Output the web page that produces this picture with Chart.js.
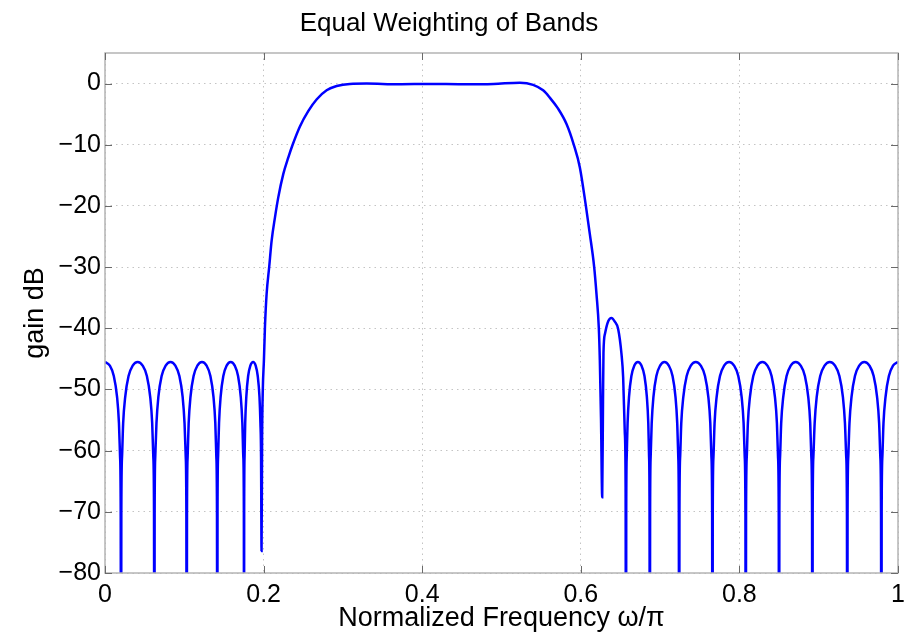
<!DOCTYPE html>
<html>
<head>
<meta charset="utf-8">
<title>Equal Weighting of Bands</title>
<script src="https://cdn.jsdelivr.net/npm/chart.js@4/dist/chart.umd.min.js"></script>
<style>
  html, body { margin: 0; padding: 0; background: #fff; }
  #wrap { width: 916px; height: 638px; }
</style>
</head>
<body>
<div id="wrap"><canvas id="myChart" width="916" height="638"></canvas></div>
<script>
// values (frequency in units of pi, gain in dB)
// -120 marks a null that falls below the visible -80 floor
const lowStopFreq = [
  0, 0.0061, 0.0111, 0.0152, 0.0176, 0.0190, 0.0198, 0.0202,
  0.0206, 0.0215, 0.0229, 0.0255, 0.0297, 0.0349, 0.0412, 0.0475, 0.0528, 0.0570, 0.0595, 0.0609, 0.0618, 0.0622,
  0.0626, 0.0634, 0.0649, 0.0673, 0.0714, 0.0765, 0.0826, 0.0887, 0.0938, 0.0979, 0.1003, 0.1018, 0.1026, 0.1030,
  0.1034, 0.1042, 0.1055, 0.1078, 0.1117, 0.1165, 0.1223, 0.1281, 0.1329, 0.1368, 0.1391, 0.1404, 0.1412, 0.1416,
  0.1419, 0.1426, 0.1438, 0.1458, 0.1492, 0.1534, 0.1585, 0.1636, 0.1678, 0.1712, 0.1732, 0.1744, 0.1751, 0.1753,
  0.1755, 0.1760, 0.1768, 0.1782, 0.1805, 0.1833, 0.1868, 0.1900, 0.1926, 0.1948, 0.1960, 0.1968, 0.1974];
const lowStopGain = [
  -45.5, -46.1, -47.8, -51.2, -55.5, -61, -70, -120,
  -70, -61, -55.5, -51.2, -47.8, -46.1, -45.5, -46.1, -47.8, -51.2, -55.5, -61, -70, -120,
  -70, -61, -55.5, -51.2, -47.8, -46.1, -45.5, -46.1, -47.8, -51.2, -55.5, -61, -70, -120,
  -70, -61, -55.5, -51.2, -47.8, -46.1, -45.5, -46.1, -47.8, -51.2, -55.5, -61, -70, -120,
  -70, -61, -55.5, -51.2, -47.8, -46.1, -45.5, -46.1, -47.8, -51.2, -55.5, -61, -70, -120,
  -70, -61, -55.5, -51.2, -47.8, -46.1, -45.5, -46.1, -47.8, -51.2, -55.5, -61, -76.4];

const passFreq = [0.1981, 0.1990, 0.2004, 0.2017, 0.2038, 0.2071, 0.2101, 0.2143, 0.2185,
  0.2248, 0.2311, 0.2366, 0.2458, 0.2563, 0.2668, 0.2795, 0.2921, 0.3088,
  0.33, 0.37, 0.41, 0.45, 0.49, 0.5231, 0.5399, 0.5525, 0.5609, 0.5714, 0.582,
  0.5912, 0.5988, 0.6064, 0.6114, 0.6168, 0.6198, 0.6227, 0.6240, 0.6255, 0.627];
const passGain = [-58, -50, -45.2, -39.8, -34.4, -29.9, -25.7, -21.9, -18.6,
  -14.8, -12.1, -10, -7, -4.5, -2.6, -1.1, -0.4, -0.05,
  0, -0.1, -0.05, -0.1, -0.05, 0.15, -0.2, -1.1, -2.3, -4.1, -6.6,
  -10, -13.7, -20, -24.6, -29.9, -34.4, -39.9, -45.2, -55, -67.6];

const highStopFreq = [
  0.6280, 0.6286, 0.6305, 0.6347, 0.6387, 0.6429, 0.6471, 0.6513, 0.6534, 0.6555, 0.6565, 0.657,
  0.6573, 0.6579, 0.6590, 0.6608, 0.6638, 0.6675, 0.672, 0.6765, 0.6803, 0.6833, 0.6851, 0.6861, 0.6867, 0.687,
  0.6874, 0.6881, 0.6894, 0.6916, 0.6953, 0.7000, 0.7055, 0.7110, 0.7157, 0.7194, 0.7216, 0.7229, 0.7236, 0.724,
  0.7244, 0.7253, 0.7267, 0.7293, 0.7335, 0.7387, 0.745, 0.7513, 0.7566, 0.7608, 0.7633, 0.7647, 0.7656, 0.766,
  0.7664, 0.7673, 0.7687, 0.7713, 0.7755, 0.7807, 0.787, 0.7933, 0.7986, 0.8028, 0.8053, 0.8067, 0.8076, 0.808,
  0.8084, 0.8093, 0.8107, 0.8133, 0.8175, 0.8227, 0.829, 0.8353, 0.8406, 0.8448, 0.8473, 0.8487, 0.8496, 0.850,
  0.8504, 0.8513, 0.8527, 0.8553, 0.8595, 0.8647, 0.871, 0.8773, 0.8826, 0.8868, 0.8893, 0.8907, 0.8916, 0.892,
  0.8924, 0.8933, 0.8949, 0.8975, 0.9019, 0.9074, 0.914, 0.9206, 0.9261, 0.9305, 0.9331, 0.9347, 0.9356, 0.936,
  0.9364, 0.9373, 0.9388, 0.9414, 0.9457, 0.9511, 0.9575, 0.9640, 0.9693, 0.9736, 0.9762, 0.9777, 0.9786, 0.979,
  0.9794, 0.9803, 0.9817, 0.9843, 0.9885, 0.9937, 1.0];
const highStopGain = [
  -52, -44, -40.9, -38.8, -38.3, -38.9, -40.1, -44.2, -48, -57.1, -66, -120,
  -70, -61, -55.5, -51.2, -47.8, -46.1, -45.5, -46.1, -47.8, -51.2, -55.5, -61, -70, -120,
  -70, -61, -55.5, -51.2, -47.8, -46.1, -45.5, -46.1, -47.8, -51.2, -55.5, -61, -70, -120,
  -70, -61, -55.5, -51.2, -47.8, -46.1, -45.5, -46.1, -47.8, -51.2, -55.5, -61, -70, -120,
  -70, -61, -55.5, -51.2, -47.8, -46.1, -45.5, -46.1, -47.8, -51.2, -55.5, -61, -70, -120,
  -70, -61, -55.5, -51.2, -47.8, -46.1, -45.5, -46.1, -47.8, -51.2, -55.5, -61, -70, -120,
  -70, -61, -55.5, -51.2, -47.8, -46.1, -45.5, -46.1, -47.8, -51.2, -55.5, -61, -70, -120,
  -70, -61, -55.5, -51.2, -47.8, -46.1, -45.5, -46.1, -47.8, -51.2, -55.5, -61, -70, -120,
  -70, -61, -55.5, -51.2, -47.8, -46.1, -45.5, -46.1, -47.8, -51.2, -55.5, -61, -70, -120,
  -70, -61, -55.5, -51.2, -47.8, -46.1, -45.5];

const xTicks = [0, 0.2, 0.4, 0.6, 0.8, 1];
const yTicks = [-80, -70, -60, -50, -40, -30, -20, -10, 0];

const freq = lowStopFreq.concat(passFreq, highStopFreq);
const gain = lowStopGain.concat(passGain, highStopGain);
const points = freq.map((f, i) => ({ x: f, y: gain[i] }));

const FONT = "'Liberation Sans', Arial, Helvetica, sans-serif";

// matlab style box with inward tick marks
const boxPlugin = {
  id: 'box',
  afterDatasetsDraw(chart) {
    const { ctx, chartArea: a, scales: { x, y } } = chart;
    ctx.save();
    ctx.strokeStyle = '#b4b4b4';
    ctx.lineWidth = 1.5;
    ctx.strokeRect(a.left, a.top, a.right - a.left, a.bottom - a.top);
    ctx.strokeStyle = '#6a6a6a';
    ctx.lineWidth = 1;
    ctx.beginPath();
    x.ticks.forEach(t => {
      const px = Math.round(x.getPixelForValue(t.value)) + 0.5;
      ctx.moveTo(px, a.bottom); ctx.lineTo(px, a.bottom - 7);
      ctx.moveTo(px, a.top); ctx.lineTo(px, a.top + 7);
    });
    y.ticks.forEach(t => {
      const py = Math.round(y.getPixelForValue(t.value)) + 0.5;
      ctx.moveTo(a.left, py); ctx.lineTo(a.left + 7, py);
      ctx.moveTo(a.right, py); ctx.lineTo(a.right - 7, py);
    });
    ctx.stroke();
    ctx.restore();
  }
};

const ctx = document.getElementById('myChart').getContext('2d');

const myChart = new Chart(ctx, {
  type: 'line',
  data: {
    datasets: [{
      data: points,
      borderColor: '#0000ff',
      borderWidth: 2.5,
      pointRadius: 0,
      fill: false,
      cubicInterpolationMode: 'monotone',
      clip: 0
    }]
  },
  options: {
    responsive: false,
    animation: false,
    layout: { padding: { left: 0, right: 18, top: 0, bottom: 0 } },
    plugins: {
      legend: { display: false },
      tooltip: { enabled: false },
      title: {
        display: true,
        text: 'Equal Weighting of Bands',
        color: '#000',
        font: { family: FONT, size: 26, weight: 'normal' },
        padding: { top: 8, bottom: 13.8 }
      }
    },
    scales: {
      x: {
        type: 'linear',
        min: 0,
        max: 1,
        afterBuildTicks: s => { s.ticks = xTicks.map(v => ({ value: v })); },
        afterFit: s => { s.height = 65; },
        ticks: {
          color: '#000',
          padding: 7,
          maxRotation: 0,
          font: { family: FONT, size: 25 },
          callback: v => String(+v.toFixed(1))
        },
        grid: { color: '#c4c4c4', lineWidth: 1, drawTicks: false },
        border: { display: false, dash: [1.5, 4] },
        title: {
          display: true,
          text: 'Normalized Frequency \u03c9/\u03c0',
          color: '#000',
          font: { family: FONT, size: 27 },
          padding: { top: 0, bottom: 3 }
        }
      },
      y: {
        min: -80,
        max: 5,
        afterBuildTicks: s => { s.ticks = yTicks.map(v => ({ value: v })); },
        afterFit: s => { s.width = 105; },
        ticks: {
          color: '#000',
          padding: 4,
          font: { family: FONT, size: 25 },
          callback: v => (v < 0 ? '\u2212' + Math.abs(v) : String(v))
        },
        grid: { color: '#c4c4c4', lineWidth: 1, drawTicks: false },
        border: { display: false, dash: [1.5, 4] },
        title: {
          display: true,
          text: 'gain dB',
          color: '#000',
          font: { family: FONT, size: 27 },
          padding: { top: 19, bottom: 0 }
        }
      }
    }
  },
  plugins: [boxPlugin]
});
</script>
</body>
</html>
